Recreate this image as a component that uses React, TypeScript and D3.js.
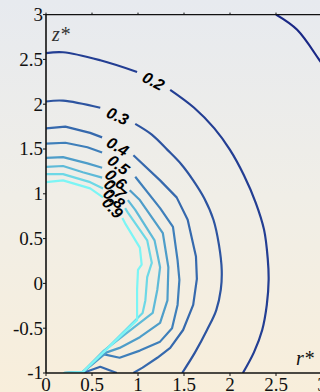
import React from 'react';
import * as d3 from 'd3';

// contour levels, lowest (outermost) first
const levels = [0.1, 0.2, 0.3, 0.4, 0.5, 0.6, 0.7, 0.8, 0.9];

// contour lines as [r*, z*] points
const c01 = [[2.5, 3.0], [2.73, 2.83], [2.98, 2.48], [3.05, 2.38]];
const c02 = [[0, 2.57], [0.185, 2.58], [0.59, 2.49], [0.99, 2.36], [1.35, 2.16], [1.61, 1.96], [1.83, 1.73],
  [2.0, 1.49], [2.15, 1.21], [2.28, 0.9], [2.37, 0.6], [2.41, 0.28], [2.42, 0.04], [2.4, -0.24],
  [2.35, -0.52], [2.26, -0.77], [2.14, -1]];
const c03 = [[0, 2.03], [0.185, 2.04], [0.59, 1.96], [0.97, 1.78], [1.15, 1.66], [1.32, 1.49], [1.47, 1.33],
  [1.6, 1.15], [1.72, 0.95], [1.82, 0.71], [1.88, 0.43], [1.91, 0.15], [1.9, -0.07], [1.85, -0.3],
  [1.75, -0.52], [1.62, -0.77], [1.48, -1]];
const c04 = [[0, 1.73], [0.21, 1.75], [0.48, 1.68], [0.61, 1.63], [0.95, 1.43], [1.24, 1.15], [1.42, 0.96],
  [1.54, 0.71], [1.63, 0.3], [1.64, 0.05], [1.6, -0.24], [1.49, -0.52], [1.35, -0.72], [1.21, -0.83],
  [1.05, -0.94], [0.95, -1]];
const c04b = [[0.4, -1], [0.59, -0.93], [0.77, -1]];
const c05 = [[0, 1.56], [0.21, 1.57], [0.45, 1.52], [0.61, 1.46], [0.97, 1.19], [1.24, 0.84], [1.38, 0.63],
  [1.43, 0.26], [1.45, 0.04], [1.43, -0.24], [1.37, -0.5], [1.24, -0.65], [1.02, -0.75], [0.8, -0.83],
  [0.62, -0.79], [0.4, -0.99], [0.185, -1]];
const c06 = [[0, 1.4], [0.185, 1.41], [0.45, 1.34], [0.61, 1.29], [0.91, 1.04], [1.02, 0.93], [1.27, 0.56],
  [1.33, 0.18], [1.32, -0.19], [1.24, -0.44], [1.02, -0.6], [0.8, -0.72], [0.66, -0.77], [0.4, -0.99], [0.185, -1]];
const c07 = [[0, 1.3], [0.185, 1.31], [0.4, 1.24], [0.61, 1.18], [0.89, 0.93], [0.97, 0.82], [1.18, 0.48],
  [1.24, 0.18], [1.21, -0.07], [1.16, -0.33], [0.63, -0.75], [0.4, -0.99], [0.185, -1]];
const c08 = [[0, 1.22], [0.185, 1.22], [0.48, 1.13], [0.62, 1.06], [0.86, 0.84], [0.89, 0.79], [1.1, 0.48],
  [1.15, 0.23], [1.1, 0.07], [1.08, -0.19], [1.05, -0.33], [0.66, -0.73], [0.4, -0.99], [0.185, -1]];
const c09 = [[0, 1.13], [0.185, 1.15], [0.48, 1.06], [0.62, 0.96], [0.83, 0.73], [0.86, 0.67], [1.02, 0.4],
  [1.04, 0.21], [1.0, 0.15], [0.99, -0.07], [0.99, -0.41], [0.4, -0.99], [0.185, -1]];

// index of the segment that is left open for the inline label (-1 = no label)
const labelGap = [-1, 3, 2, 3, 3, 3, 3, 3, 3];

const rTicks = [0, 0.5, 1, 1.5, 2, 2.5, 3];
const zTicks = [-1, -0.5, 0, 0.5, 1, 1.5, 2, 2.5, 3];

const contours = [c01, c02, c03, c04, c05, c06, c07, c08, c09];
const extra = [{ level: 0.4, pts: c04b }];

export default function App() {
  const width = 320;
  const height = 392;

  const x = d3.scaleLinear().domain([0, 3]).range([46, 322]);
  const y = d3.scaleLinear().domain([-1, 3]).range([373, 14.6]);
  const color = d3.scaleLinear<string>()
    .domain([0.1, 0.5, 0.9])
    .range(['#1a2886', '#3f7fba', '#7cf5f5']);
  // outer contours are smooth arcs, the inner ones keep their grid kinks
  const smooth = d3.line<number[]>().x(d => x(d[0])).y(d => y(d[1])).curve(d3.curveCatmullRom.alpha(0.5));
  const straight = d3.line<number[]>().x(d => x(d[0])).y(d => y(d[1]));
  const lineFor = (lv: number) => (lv <= 0.3 ? smooth : straight);

  const serif = '"Liberation Serif", "Times New Roman", serif';
  const sans = '"Liberation Sans", Arial, sans-serif';

  const paths: { d: string; c: string; key: string }[] = [];
  const labels: { x: number; y: number; a: number; t: string }[] = [];

  contours.forEach((pts, i) => {
    const lv = levels[i];
    const g = labelGap[i];
    const line = lineFor(lv);
    if (g < 0) {
      paths.push({ d: line(pts) as string, c: color(lv), key: `c${i}` });
      if (i === 0) {
        extra.forEach((e, j) => paths.push({ d: straight(e.pts) as string, c: color(e.level), key: `e${j}` }));
      }
      return;
    }
    paths.push({ d: line(pts.slice(0, g + 1)) as string, c: color(lv), key: `c${i}a` });
    paths.push({ d: line(pts.slice(g + 1)) as string, c: color(lv), key: `c${i}b` });
    const x0 = x(pts[g][0]), y0 = y(pts[g][1]);
    const x1 = x(pts[g + 1][0]), y1 = y(pts[g + 1][1]);
    labels.push({
      x: (x0 + x1) / 2,
      y: (y0 + y1) / 2,
      a: (Math.atan2(y1 - y0, x1 - x0) * 180) / Math.PI,
      t: String(lv),
    });
  });

  const left = x(0), right = x(3), top = y(3), bottom = y(-1);

  return (
    <svg width={width} height={height} style={{ position: 'absolute', left: 0, top: 0 }}>
      <defs>
        <linearGradient id="bg" x1="0" y1="0" x2="0" y2="1">
          <stop offset="0" stopColor="#e7eaef" />
          <stop offset="0.5" stopColor="#f0eee7" />
          <stop offset="1" stopColor="#f8eedb" />
        </linearGradient>
        <clipPath id="plot">
          <rect x={left} y={top} width={right - left} height={bottom - top} />
        </clipPath>
      </defs>
      <rect width={width} height={height} fill="url(#bg)" />

      <g clipPath="url(#plot)" fill="none" strokeWidth={2.2} strokeLinejoin="round">
        {paths.map(p => (
          <path key={p.key} d={p.d} stroke={p.c} />
        ))}
      </g>

      {labels.map(l => (
        <text
          key={l.t}
          transform={`translate(${l.x},${l.y}) rotate(${l.a})`}
          textAnchor="middle"
          dy="0.36em"
          fontFamily={sans}
          fontWeight="bold"
          fontStyle="italic"
          fontSize={16}
          fill="#000"
        >
          {l.t}
        </text>
      ))}

      {/* axes */}
      <g stroke="#111" fill="none">
        <line x1={left} x2={left} y1={top} y2={bottom} strokeWidth={1.6} />
        <line x1={left} x2={right} y1={top} y2={top} strokeWidth={1.2} />
        <line x1={left} x2={right} y1={bottom} y2={bottom} strokeWidth={1.6} />
        {zTicks.map(v => (
          <line key={`zt${v}`} x1={left - 3} x2={left} y1={y(v)} y2={y(v)} strokeWidth={1} />
        ))}
        {rTicks.map(v => (
          <line key={`rt${v}`} x1={x(v)} x2={x(v)} y1={top - 2} y2={top} strokeWidth={1} />
        ))}
        {rTicks.map(v => (
          <line key={`rb${v}`} x1={x(v)} x2={x(v)} y1={bottom} y2={bottom + 3} strokeWidth={1} />
        ))}
      </g>

      <g fontFamily={serif} fontSize={19} fill="#111">
        {zTicks.map(v => (
          <text key={`zl${v}`} x={left - 3} y={y(v)} dy="0.34em" textAnchor="end">
            {String(v)}
          </text>
        ))}
        {rTicks.map(v => (
          <text key={`rl${v}`} x={x(v)} y={391} textAnchor="middle">
            {String(v)}
          </text>
        ))}
      </g>

      <text x={52} y={41} fontFamily={serif} fontStyle="italic" fontSize={20} fill="#333">z*</text>
      <text x={296} y={365} fontFamily={serif} fontStyle="italic" fontSize={20} fill="#111">r*</text>
    </svg>
  );
}
